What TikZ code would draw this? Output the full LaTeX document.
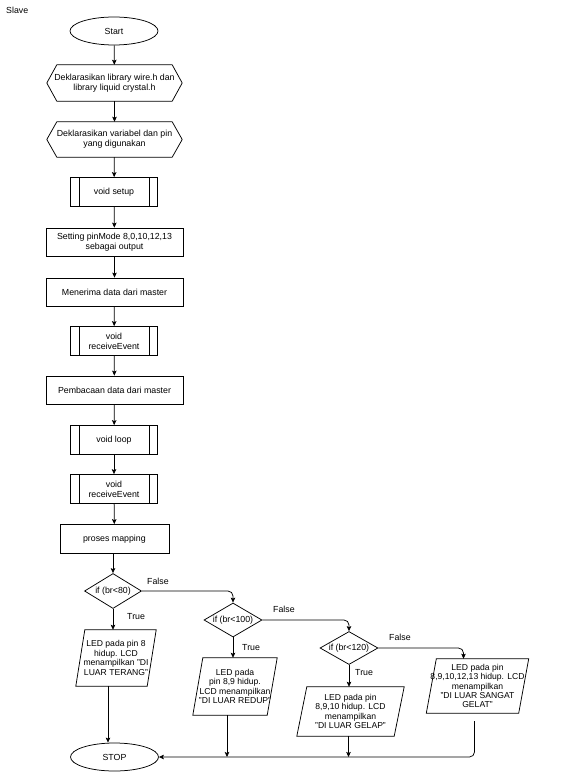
\documentclass[tikz,border=0pt]{standalone}
\usepackage{fontspec}
\setmainfont{Liberation Sans}
\usetikzlibrary{shapes.geometric,arrows.meta}
\newcommand\drawpara[2]{\draw[ln] ([xshift=#2]#1.north west) -- (#1.north east) -- ([xshift=-#2]#1.south east) -- (#1.south west) -- cycle;}
\newcommand\drawhexa[2]{\draw[ln] ([xshift=#2]#1.north west) -- ([xshift=-#2]#1.north east) -- (#1.east) -- ([xshift=-#2]#1.south east) -- ([xshift=#2]#1.south west) -- (#1.west) -- cycle;}
\newcommand\drawsubr[2]{\draw[ln] ([xshift=#2]#1.north west) -- ([xshift=#2]#1.south west); \draw[ln] ([xshift=-#2]#1.north east) -- ([xshift=-#2]#1.south east);}
\begin{document}
\begin{tikzpicture}[x=1pt,y=-1pt,
  every node/.style={font=\fontsize{8.8}{10}\selectfont, inner sep=0pt, align=center},
  ln/.style={draw=black, line width=0.75pt},
  arr/.style={ln, -{Stealth[length=5pt,width=4.5pt,inset=1pt]}},
  term/.style={ellipse, ln, minimum width=88pt, minimum height=28pt},
  proc/.style={rectangle, ln, minimum width=137pt, minimum height=28pt},
  subr/.style={rectangle, ln, minimum width=87pt, minimum height=29pt},
  hexn/.style={rectangle, minimum width=135pt, minimum height=36pt},
  dec/.style={diamond, ln, aspect=1.63, minimum width=57pt, minimum height=35pt},
  paran/.style={rectangle, font=\fontsize{8.6}{9.4}\selectfont},
  lbl/.style={anchor=west}
]
\useasboundingbox (0,0) rectangle (578,775);

\node[anchor=west] (title) at (6,10) {Slave};
\node[term] (start) at (114,31) {Start};
\node[hexn] (h1) at (114.5,83) {Deklarasikan library wire.h dan\\library liquid crystal.h};
\drawhexa{h1}{10pt}
\node[hexn, minimum height=35pt] (h2) at (114.5,139.5) {Deklarasikan variabel dan pin\\yang digunakan};
\drawhexa{h2}{10pt}
\node[subr] (setup) at (114,192) {void setup};
\drawsubr{setup}{9pt}
\node[proc] (setting) at (114.5,242) {Setting pinMode 8,0,10,12,13\\sebagai output};
\node[proc] (terima) at (114.5,292) {Menerima data dari master};
\node[subr] (recv1) at (114,341) {void\\receiveEvent};
\drawsubr{recv1}{9pt}
\node[proc] (baca) at (114.5,390) {Pembacaan data dari master};
\node[subr] (loop) at (114,440) {void loop};
\drawsubr{loop}{9pt}
\node[subr] (recv2) at (114,489) {void\\receiveEvent};
\drawsubr{recv2}{9pt}
\node[proc, minimum width=109pt, minimum height=29pt] (map) at (114.4,539) {proses mapping};

\node[dec] (d1) at (113,591) {if (br<80)};
\node[dec, minimum width=58pt, minimum height=34pt] (d2) at (233,620) {if (br<100)};
\node[dec, minimum width=58pt, minimum height=33pt] (d3) at (349,648) {if (br<120)};

\node[paran, minimum width=80pt, minimum height=56pt] (p1) at (116,658) {LED pada pin 8\\hidup. LCD\\menampilkan "DI\\LUAR TERANG"};
\drawpara{p1}{9pt}
\node[paran, minimum width=84pt, minimum height=57pt] (p2) at (235,686.5) {LED pada\\pin 8,9 hidup.\\LCD menampilkan\\"DI LUAR REDUP"};
\drawpara{p2}{10pt}
\node[paran, minimum width=107pt, minimum height=49pt] (p3) at (350.5,711.5) {LED pada pin\\8,9,10 hidup. LCD\\menampilkan\\"DI LUAR GELAP"};
\drawpara{p3}{10pt}
\node[paran, minimum width=102pt, minimum height=54pt] (p4) at (477.5,686) {LED pada pin\\8,9,10,12,13 hidup. LCD\\menampilkan\\"DI LUAR SANGAT\\GELAT"};
\drawpara{p4}{10pt}

\node[term] (stop) at (114.5,757) {STOP};

\draw[arr] (start) -- (h1);
\draw[arr] (h1) -- (h2);
\draw[arr] (h2) -- (setup);
\draw[arr] (setup) -- (setting);
\draw[arr] (setting) -- (terima);
\draw[arr] (terima) -- (recv1);
\draw[arr] (recv1) -- (baca);
\draw[arr] (baca) -- (loop);
\draw[arr] (loop) -- (recv2);
\draw[arr] (recv2) -- (map);
\draw[arr] (map.south -| d1.north) -- (d1.north);

\draw[arr, rounded corners=5pt] (d1.east) -| (d2.north);
\draw[arr] (d1.south) -- (d1.south |- p1.north);
\draw[arr, rounded corners=5pt] (d2.east) -| (d3.north);
\draw[arr] (d2.south) -- (d2.south |- p2.north);
\draw[arr, rounded corners=5pt] (d3.east) -| ([xshift=-14pt]p4.north);
\draw[arr] (d3.south) -- (d3.south |- p3.north);

\draw[arr] ([xshift=-8pt]p1.south) -- ([xshift=-8pt]p1.south |- stop.north);
\draw[arr, rounded corners=5pt] ([xshift=-3pt,yshift=-8pt]p4.south) |- (stop.east);
\draw[arr] ([xshift=-8pt]p2.south) -- ([xshift=-8pt]p2.south |- stop.east);
\draw[arr] ([xshift=-2pt]p3.south) -- ([xshift=-2pt]p3.south |- stop.east);

\node[lbl] (f1) at (147,581) {False};
\node[lbl] (t1) at (127,617) {True};
\node[lbl] (f2) at (273,609) {False};
\node[lbl] (t2) at (242,648) {True};
\node[lbl] (f3) at (389,637) {False};
\node[lbl] (t3) at (355,673) {True};
\end{tikzpicture}
\end{document}
